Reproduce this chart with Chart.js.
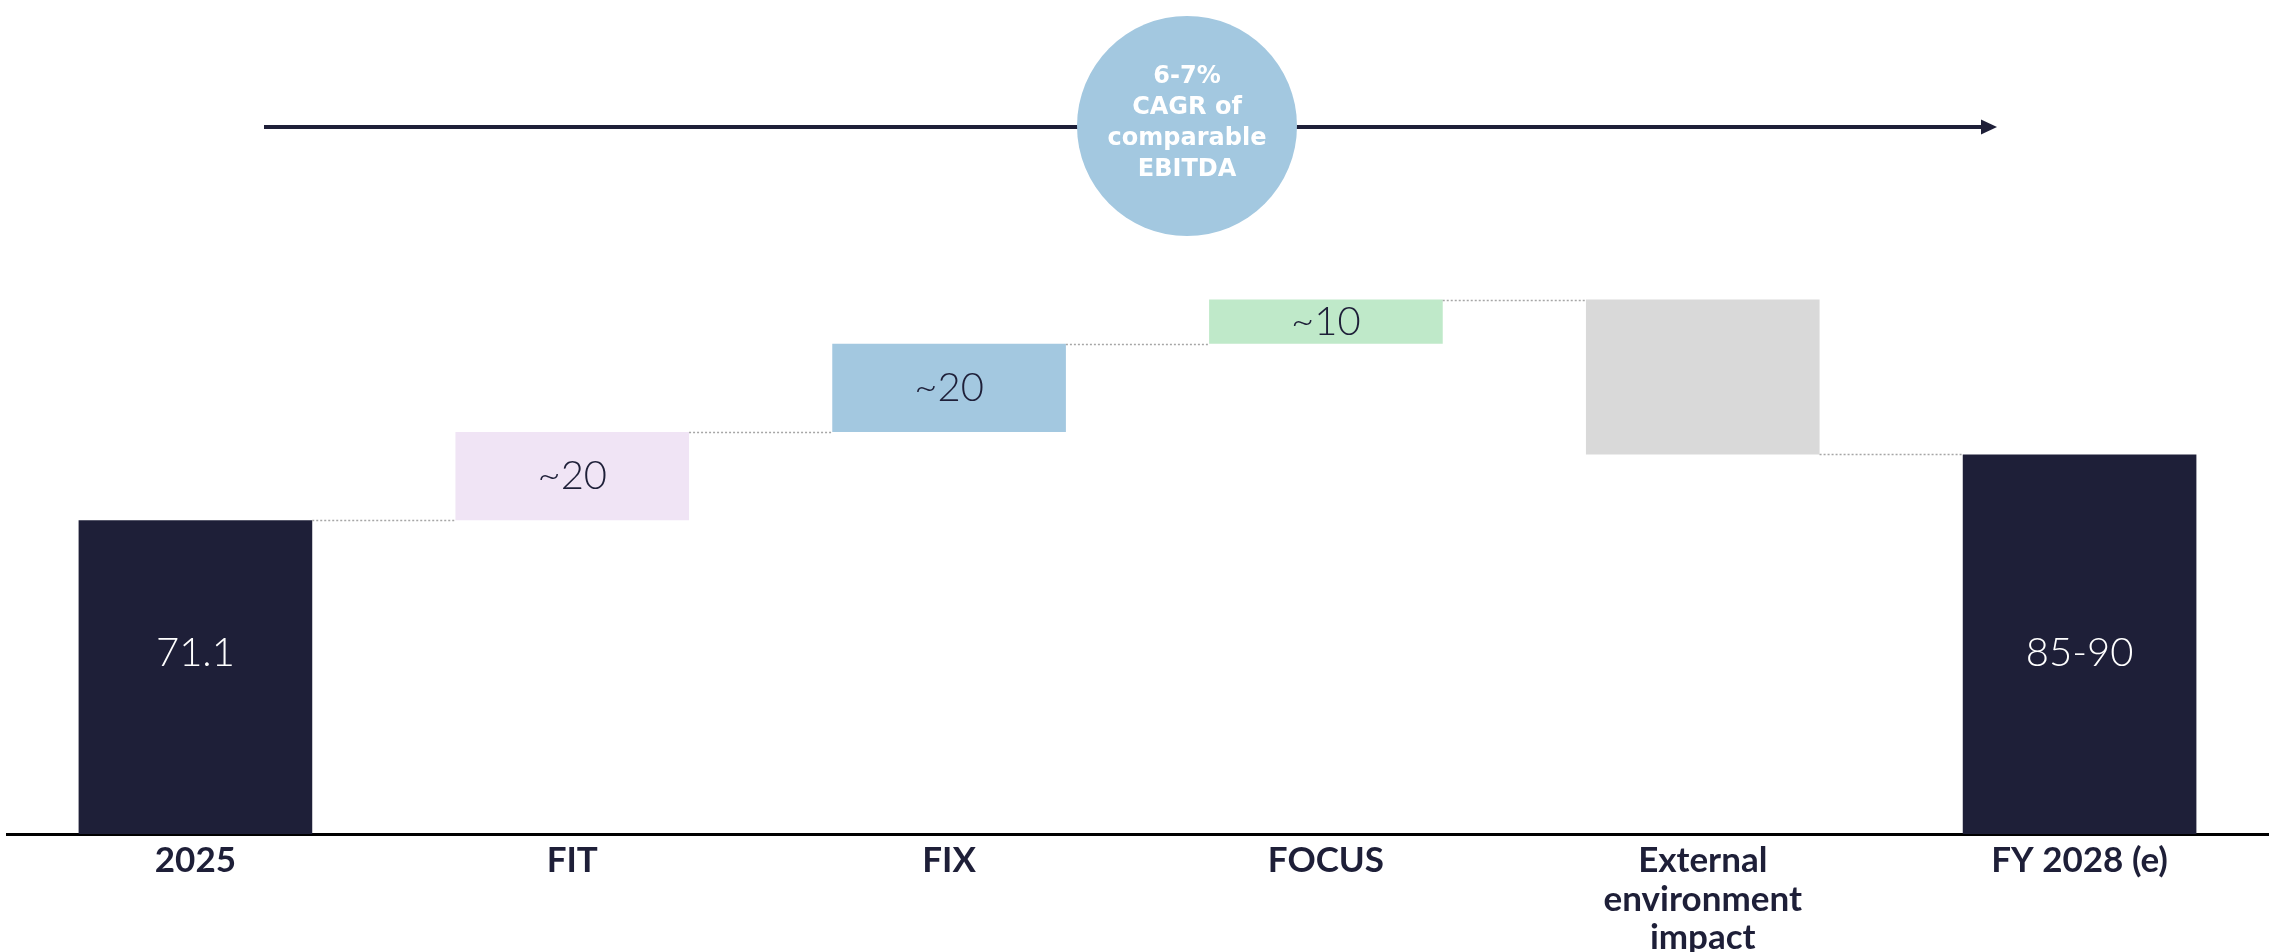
<!DOCTYPE html>
<html>
<head>
<meta charset="utf-8">
<script src="https://cdn.jsdelivr.net/npm/chart.js@4.4.1/dist/chart.umd.min.js"></script>
<style>
  html, body { margin: 0; padding: 0; background: #ffffff; }
  #wrap { width: 2279px; height: 952px; position: relative; }
</style>
</head>
<body>
<div id="wrap"><canvas id="bridgeChart"></canvas></div>
<script>
// EBITDA bridge 2025 -> FY 2028 (e)
var categories = ["2025", "FIT", "FIX", "FOCUS", ["External", "environment", "impact"], "FY 2028 (e)"];
var startValue = 71.1;
var steps = [20, 20, 10, -35.1];
var endValue = 86;
var valueLabels = ["71.1", "~20", "~20", "~10", "", "85-90"];
var barColors = ["#1e1f38", "#f0e4f5", "#a3c8e0", "#bfe9c9", "#d9d9d9", "#1e1f38"];
var labelColors = ["#ffffff", "#1e1f38", "#1e1f38", "#1e1f38", "#1e1f38", "#ffffff"];
var bubbleLines = ["6-7%", "CAGR of", "comparable", "EBITDA"];

var NAVY = "#1e1f38";

// floating [from, to] ranges for the waterfall
var ranges = [[0, startValue]];
var running = startValue;
steps.forEach(function (s) {
    ranges.push([running, running + s]);
    running += s;
});
ranges.push([0, endValue]);

var bridgeDecor = {
    id: "bridgeDecor",
    afterDatasetsDraw: function (chart) {
        var ctx = chart.ctx;
        var meta = chart.getDatasetMeta(0);
        var y = chart.scales.y;
        ctx.save();

        // dotted connectors between bars
        ctx.strokeStyle = "#a6a6a6";
        ctx.lineWidth = 1.5;
        ctx.setLineDash([2, 2]);
        for (var i = 0; i < meta.data.length - 1; i++) {
            var a = meta.data[i], b = meta.data[i + 1];
            var lvl = Math.round(y.getPixelForValue(ranges[i][1])) + 0.5;
            ctx.beginPath();
            ctx.moveTo(a.x + a.width / 2, lvl);
            ctx.lineTo(b.x - b.width / 2, lvl);
            ctx.stroke();
        }
        ctx.setLineDash([]);

        // value labels
        ctx.textAlign = "center";
        ctx.textBaseline = "middle";
        ctx.font = "300 40px Lato";
        meta.data.forEach(function (bar, idx) {
            if (!valueLabels[idx]) return;
            var p = bar.getProps(["x", "y", "base"], true);
            var isTotal = idx === 0 || idx === meta.data.length - 1;
            var ty = isTotal ? y.getPixelForValue(41) : (p.y + p.base) / 2;
            ctx.fillStyle = labelColors[idx];
            ctx.fillText(valueLabels[idx], p.x, ty);
        });
        ctx.restore();
    },
    afterDraw: function (chart) {
        var ctx = chart.ctx;
        ctx.save();

        // growth arrow across the top
        var ay = 127;
        ctx.strokeStyle = NAVY;
        ctx.fillStyle = NAVY;
        ctx.lineWidth = 4;
        ctx.beginPath();
        ctx.moveTo(264, ay);
        ctx.lineTo(1984, ay);
        ctx.stroke();
        ctx.beginPath();
        ctx.moveTo(1997, ay);
        ctx.lineTo(1981, ay - 7.5);
        ctx.lineTo(1981, ay + 7.5);
        ctx.closePath();
        ctx.fill();

        // CAGR bubble
        var cx = 1187, cy = 126;
        ctx.fillStyle = "#a3c8e0";
        ctx.beginPath();
        ctx.arc(cx, cy, 110, 0, Math.PI * 2);
        ctx.fill();
        ctx.fillStyle = "#ffffff";
        ctx.font = "bold 24px 'DejaVu Sans'";
        ctx.textAlign = "center";
        ctx.textBaseline = "middle";
        bubbleLines.forEach(function (t, i) {
            ctx.fillText(t, cx, cy - 3 + (i - 1.5) * 31);
        });
        ctx.restore();
    }
};

document.addEventListener("DOMContentLoaded", function () {
    var ctx = document.getElementById("bridgeChart").getContext("2d");

    new Chart(ctx, {
        type: "bar",
        data: {
            labels: categories,
            datasets: [{
                data: ranges,
                backgroundColor: barColors,
                borderWidth: 0,
                borderSkipped: false,
                barPercentage: 0.62,
                categoryPercentage: 1
            }]
        },
        options: {
            responsive: true,
            maintainAspectRatio: false,
            animation: false,
            layout: {
                padding: { top: 172, left: 7, right: 11, bottom: 0 }
            },
            plugins: {
                legend: { display: false },
                tooltip: { enabled: false }
            },
            scales: {
                x: {
                    grid: { display: false },
                    border: { display: true, color: "#000000", width: 3 },
                    ticks: {
                        color: NAVY,
                        padding: 0,
                        maxRotation: 0,
                        autoSkip: false,
                        font: { family: "Lato", size: 35, weight: "bold", lineHeight: 1.09 }
                    },
                    afterFit: function (scale) {
                        scale.height = 118;
                    }
                },
                y: {
                    display: false,
                    min: 0,
                    max: 150
                }
            }
        },
        plugins: [bridgeDecor]
    });
});
</script>
</body>
</html>
